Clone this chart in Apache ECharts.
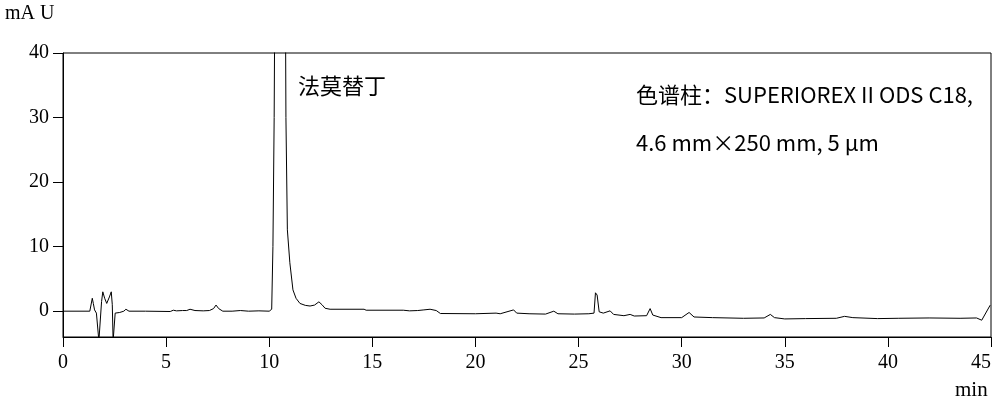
<!DOCTYPE html>
<html>
<head>
<meta charset="utf-8">
<script src="https://cdn.jsdelivr.net/npm/echarts@6/dist/echarts.min.js"></script>
<style>
    html, body { margin: 0; padding: 0; background: #fff; }
    #chart { width: 998px; height: 402px; }
</style>
</head>
<body>
<div id="chart"></div>
<script>
// retention time (min)
var times = [
    0, 1.3, 1.42, 1.47, 1.53, 1.62, 1.74, 1.80, 1.87, 1.93, 2.02, 2.12, 2.25, 2.34, 2.39, 2.43, 2.48, 2.53,
    2.75, 2.95, 3.05, 3.2, 4.0, 5.2, 5.35, 5.5, 5.8, 6.0, 6.16, 6.4, 6.8, 7.1, 7.3, 7.42, 7.55, 7.75,
    8.2, 8.6, 9.0, 9.5, 10.0, 10.12, 10.18, 10.24, 10.29, 10.38, 10.52, 10.67, 10.77, 10.81, 10.88,
    11.0, 11.15, 11.3, 11.49, 11.75, 11.98, 12.2, 12.41, 12.56, 12.71, 12.95, 14.6, 14.7, 16.5, 16.8,
    17.2, 17.5, 17.8, 18.1, 18.3, 20.0, 21.0, 21.2, 21.85, 22.0, 22.6, 23.4, 23.8, 24.0, 24.8, 25.5,
    25.75, 25.82, 25.9, 26.0, 26.2, 26.53, 26.7, 27.2, 27.5, 27.7, 28.3, 28.47, 28.6, 29.0, 30.0,
    30.36, 30.6, 31.5, 33.0, 34.0, 34.3, 34.5, 35.0, 36.0, 37.5, 37.9, 38.3, 39.5, 40.5, 42.0, 43.5,
    44.3, 44.55, 44.96
];
// detector response (mAU)
var signal = [
    0, 0, 2.0, 1.2, 0.2, -0.3, -4.6, -4.6, 1.5, 3.0, 2.0, 1.2, 2.2, 3.0, 1.0, -4.6, -4.6, -0.3,
    -0.2, 0, 0.3, 0, 0, -0.05, 0.15, 0.05, 0.1, 0.1, 0.3, 0.1, 0.05, 0.1, 0.4, 0.95, 0.4, 0,
    0, 0.1, 0, 0.05, 0, 0.3, 10, 30, 60, 150, 200, 150, 60, 30, 12.6,
    7.5, 3.3, 2.0, 1.2, 0.9, 0.8, 0.95, 1.45, 1.0, 0.45, 0.3, 0.3, 0.15, 0.15, 0.05,
    0.1, 0.2, 0.3, 0.1, -0.36, -0.4, -0.3, -0.4, 0.2, -0.3, -0.4, -0.45, 0, -0.4, -0.45, -0.4,
    -0.3, 2.85, 2.5, -0.1, -0.3, 0.05, -0.5, -0.7, -0.5, -0.75, -0.7, 0.4, -0.6, -1.0, -1.0,
    -0.2, -0.9, -1.0, -1.1, -1.05, -0.5, -1.0, -1.2, -1.15, -1.1, -0.8, -1.0, -1.15, -1.1, -1.05, -1.1,
    -1.05, -1.4, 0.93
];
var yTicks = [0, 10, 20, 30, 40];
var peakName = '法莫替丁';
var columnInfo = ['色谱柱：SUPERIOREX II ODS C18,', '4.6 mm×250 mm, 5 μm'];

var points = times.map(function(t, i) { return [t, signal[i]] });

var serif = '"Liberation Serif", "Times New Roman", serif';
var cjk = '"Noto Sans CJK SC", sans-serif';

var myChart = echarts.init(document.getElementById('chart'));
var option = {
    animation: false,
    grid: {
        left: 63, right: 7, top: 53, bottom: 65,
        show: true,
        borderColor: '#000',
        borderWidth: 1
    },
    xAxis: {
        type: 'value',
        min: 0, max: 45, interval: 5,
        axisLine: { onZero: false, lineStyle: { color: '#000', width: 1 } },
        axisTick: { show: true, length: 10, lineStyle: { color: '#000' } },
        axisLabel: { color: '#000', fontFamily: serif, fontSize: 20, margin: 16, alignMaxLabel: 'right' },
        splitLine: { show: false }
    },
    yAxis: {
        type: 'value',
        min: -4, max: 40,
        axisLine: { show: true, onZero: false, lineStyle: { color: '#000', width: 1 } },
        axisTick: { show: true, length: 10, customValues: yTicks, lineStyle: { color: '#000' } },
        axisLabel: { color: '#000', fontFamily: serif, fontSize: 20, margin: 14, customValues: yTicks },
        splitLine: { show: false }
    },
    graphic: [
        { type: 'text', left: 5, top: 4, style: { text: 'mA U', font: '20px ' + serif, fill: '#000' } },
        { type: 'text', left: 955, top: 380, style: { text: 'min', font: '21px ' + serif, fill: '#000' } },
        { type: 'text', left: 298, top: 75, style: { text: peakName, font: '22px ' + cjk, fill: '#000' } },
        { type: 'text', left: 636, top: 84, style: { text: columnInfo[0], font: '22px ' + cjk, fill: '#000' } },
        { type: 'text', left: 636, top: 132, style: { text: columnInfo[1], font: '22px ' + cjk, fill: '#000' } }
    ],
    series: [{
        type: 'line',
        data: points,
        showSymbol: false,
        clip: true,
        lineStyle: { color: '#000', width: 1 }
    }]
};
myChart.setOption(option);
</script>
</body>
</html>
